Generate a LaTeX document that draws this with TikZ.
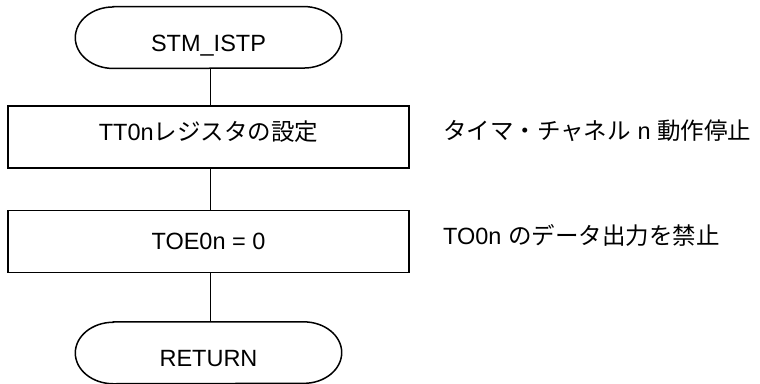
\documentclass[tikz,border=0pt]{standalone}
\usepackage{fontspec}
\setmainfont{Liberation Sans}
\newfontfamily\jp{Noto Sans CJK JP}
\begin{document}
\begin{tikzpicture}[
  x=1pt, y=1pt,
  every node/.style={font=\fontsize{23.5}{28}\selectfont, inner sep=0pt},
  ln/.style={line width=1.5pt, black},
  procbox/.style={draw, ln, minimum width=401pt, minimum height=62pt},
  termnode/.style={minimum width=266pt, minimum height=61.5pt, text height=27pt, text depth=0pt},
  note/.style={anchor=base west}
]
\useasboundingbox (0,0) rectangle (760,-383);
% nodes
\node[termnode] (t1) at (208.5,-37.5) {STM\_ISTP};
\node[procbox, text height=16pt, text depth=9.6pt] (b1) at (208.5,-136.8) {TT0n{\jp レジスタの設定}};
\node[procbox, text height=17pt, text depth=1.8pt] (b2) at (208.5,-241.7) {TOE0n = 0};
\node[termnode] (t2) at (208.5,-352.8) {RETURN};
\node[note] (c1) at (443,-139) {{\jp タイマ・チャネル} n {\jp 動作停止}};
\node[note] (c2) at (443,-244) {TO0n {\jp のデータ出力を禁止}};
% terminal outlines
\foreach \t in {t1,t2}{
  \draw[ln] ([xshift=38pt]\t.north west) -- ([xshift=-38pt]\t.north east)
    arc[start angle=90, end angle=-90, x radius=38pt, y radius=30.75pt]
    -- ([xshift=38pt]\t.south west)
    arc[start angle=270, end angle=90, x radius=38pt, y radius=30.75pt]
    -- cycle;
}
% connectors
\draw[ln] ([xshift=2pt]t1.south) -- ([xshift=2pt]b1.north);
\draw[ln] ([xshift=2pt]b1.south) -- ([xshift=2pt]b2.north);
\draw[ln] ([xshift=2pt]b2.south) -- ([xshift=2pt]t2.north);
\end{tikzpicture}
\end{document}
